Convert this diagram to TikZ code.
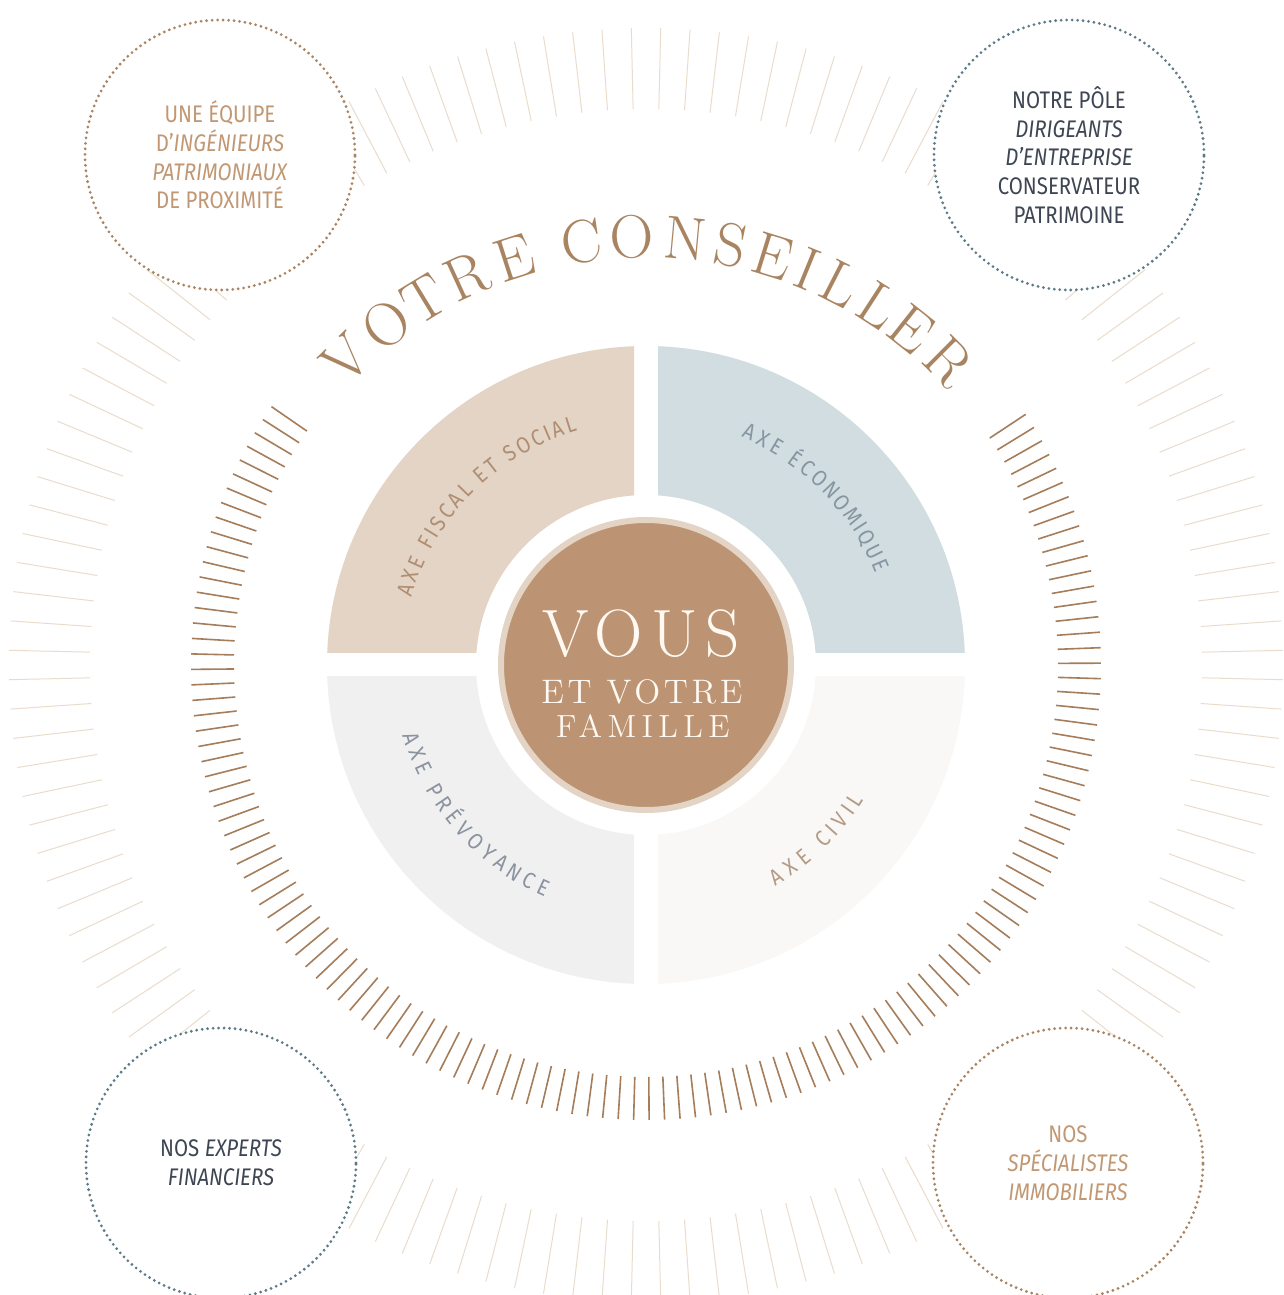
\documentclass[tikz,border=0pt]{standalone}
\usepackage{fontspec}
\newfontfamily\circfont{Fira Sans}[FakeStretch=0.85]
\newfontfamily\axefont{Fira Sans}[FakeStretch=0.88]
\newfontfamily\titlefont{lmroman17-regular.otf}
\newfontfamily\vousfont{lmroman17-regular.otf}[LetterSpace=12]
\newfontfamily\etfont{lmroman12-regular.otf}[LetterSpace=11]
\newfontfamily\famfont{lmroman12-regular.otf}[LetterSpace=17]
\definecolor{rayout}{HTML}{EADCCD}
\definecolor{rayin}{HTML}{A67D5A}
\definecolor{dotbrown}{HTML}{A88462}
\definecolor{dotblue}{HTML}{5D7A87}
\definecolor{txtbrown}{HTML}{C19873}
\definecolor{txtdark}{HTML}{3E4653}
\definecolor{titlebrown}{HTML}{A98461}
\definecolor{qtl}{HTML}{E3D4C5}
\definecolor{qtr}{HTML}{D1DDE0}
\definecolor{qbl}{HTML}{F0F0F0}
\definecolor{qbr}{HTML}{FAF8F6}
\definecolor{vousbrown}{HTML}{BC9473}
\definecolor{ringbeige}{HTML}{E3D4C5}
\definecolor{cream}{HTML}{FFF9F2}
\definecolor{axtl}{HTML}{B08E73}
\definecolor{axtr}{HTML}{8596A2}
\definecolor{axbl}{HTML}{8A939E}
\definecolor{axbr}{HTML}{B39B85}
% #1 name, #2 centre angle, #3 baseline radius, #4 direction (1 ccw, -1 cw),
% #5 degrees per width unit, #6 font, #7 colour, #8 list of char/width
\newcommand\arcweights[8]{%
  \begingroup
  \gdef\arcsum{0}%
  \foreach \c/\w in {#8}{\pgfmathparse{\arcsum+\w}\xdef\arcsum{\pgfmathresult}}%
  \pgfmathsetmacro\arcstart{#2-#4*\arcsum/2*#5}%
  \gdef\arccum{0}%
  \foreach \c/\w [count=\n] in {#8}{%
    \pgfmathsetmacro\ang{\arcstart+#4*(\arccum+\w/2)*#5}%
    \node[anchor=base, inner sep=0pt, text=#7, font=#6, rotate=\ang+#4*90] (#1\n) at (\ang:#3) {\c};
    \pgfmathparse{\arccum+\w}\xdef\arccum{\pgfmathresult}%
  }%
  \endgroup
}
\begin{document}
\begin{tikzpicture}[x=1pt,y=1pt,
  outerray/.style={draw=rayout, line width=1pt},
  innerray/.style={draw=rayin, line width=1.6pt},
  bubble/.style={circle, minimum size=270pt, inner sep=0pt, fill=white,
    line width=3.1pt, dash pattern=on 0pt off 5.5pt, line cap=round,
    align=center, font=\circfont\fontsize{24}{28.8}\selectfont},
  titleletter/.style={inner sep=0pt, text=titlebrown, font=\titlefont\fontsize{61}{61}\selectfont},
  vousline/.style={anchor=base, inner sep=0pt, text=cream}]
\useasboundingbox (-646,-630) rectangle (637,665);
\fill[white] (-646,-630) rectangle (637,665);

% outer light rays
\foreach \i in {0,...,135}{
  \draw[outerray] ({(\i+0.5)*2.6470588}:556) -- ({(\i+0.5)*2.6470588}:637);
}

% corner bubbles
\node[bubble, draw=dotbrown, text=txtbrown] (equipe) at (-426,510)
  {UNE ÉQUIPE\\D’\textit{INGÉNIEURS}\\\textit{PATRIMONIAUX}\\DE PROXIMITÉ};
\node[bubble, draw=dotblue, text=txtdark] (pole) at (423,510)
  {NOTRE PÔLE\\\textit{DIRIGEANTS}\\\textit{D’ENTREPRISE}\\CONSERVATEUR\\PATRIMOINE};
\node[bubble, draw=dotblue, text=txtdark] (experts) at (-425,-498)
  {NOS \textit{EXPERTS}\\\textit{FINANCIERS}};
\node[bubble, draw=dotbrown, text=txtbrown] (immo) at (422,-498)
  {NOS\\\textit{SPÉCIALISTES}\\\textit{IMMOBILIERS}};

% inner dark rays
\foreach \k in {0,...,127}{
  \draw[innerray] ({145.4+\k*1.953}:412) -- ({145.4+\k*1.953}:455);
}

% quadrants
\begin{scope}
  \clip (-12,12) rectangle (-330,330);
  \fill[qtl, even odd rule] (0,0) circle (319) (0,0) circle (170);
\end{scope}
\begin{scope}
  \clip (12,12) rectangle (330,330);
  \fill[qtr, even odd rule] (0,0) circle (319) (0,0) circle (170);
\end{scope}
\begin{scope}
  \clip (-12,-12) rectangle (-330,-330);
  \fill[qbl, even odd rule] (0,0) circle (319) (0,0) circle (170);
\end{scope}
\begin{scope}
  \clip (12,-12) rectangle (330,-330);
  \fill[qbr, even odd rule] (0,0) circle (319) (0,0) circle (170);
\end{scope}

% quadrant labels, set along arcs
\arcweights{fisc}{135.1}{244}{-1}{3.35}{\axefont\fontsize{22.5}{22.5}\selectfont}{axtl}
  {A/1,X/1,E/1,{}/0.5,F/1,I/0.5,S/1,C/1,A/1,L/0.9,{}/0.5,E/1,T/1,{}/0.5,S/1,O/1.1,C/1,I/0.5,A/1,L/0.9}
\arcweights{eco}{44.5}{247}{-1}{3.45}{\axefont\fontsize{22.5}{22.5}\selectfont}{axtr}
  {A/1,X/1,E/1,{}/0.5,É/1,C/1,O/1.1,N/1,O/1.1,M/1.2,I/0.5,Q/1.1,U/1,E/1}
\arcweights{prev}{221.3}{253}{1}{3.8}{\axefont\fontsize{22.5}{22.5}\selectfont}{axbl}
  {A/1,X/1,E/1,{}/0.5,P/1,R/1,É/1,V/1,O/1.1,Y/1,A/1,N/1,C/1,E/1}
\arcweights{civ}{314.2}{256}{1}{3.95}{\axefont\fontsize{22.5}{22.5}\selectfont}{axbr}
  {A/1,X/1,E/1,{}/0.5,C/1,I/0.5,V/1,I/0.5,L/0.9}

% centre
\node[circle, fill=vousbrown, draw=ringbeige, line width=6pt, minimum size=290pt, inner sep=0pt] (vous) at (0,0) {};
\node[vousline, font=\vousfont\fontsize{67}{67}\selectfont] (vous1) at (-5,8) {VOUS};
\node[vousline, font=\etfont\fontsize{34}{34}\selectfont] (vous2) at (-4,-38) {ET VOTRE};
\node[vousline, font=\famfont\fontsize{32}{32}\selectfont] (vous3) at (-3,-72) {FAMILLE};

% curved title
\foreach \l/\a [count=\n] in {V/134.4, O/127.3, T/121.3, R/114.7, E/107.9,
    C/98.6, O/91.9, N/84.7, S/78.6, E/72.8, I/67.8, L/62.9, L/57.1, E/51.6, R/45.1}{
  \node[titleletter, rotate=\a-90] (title\n) at (\a:428) {\l};
}
\end{tikzpicture}
\end{document}
